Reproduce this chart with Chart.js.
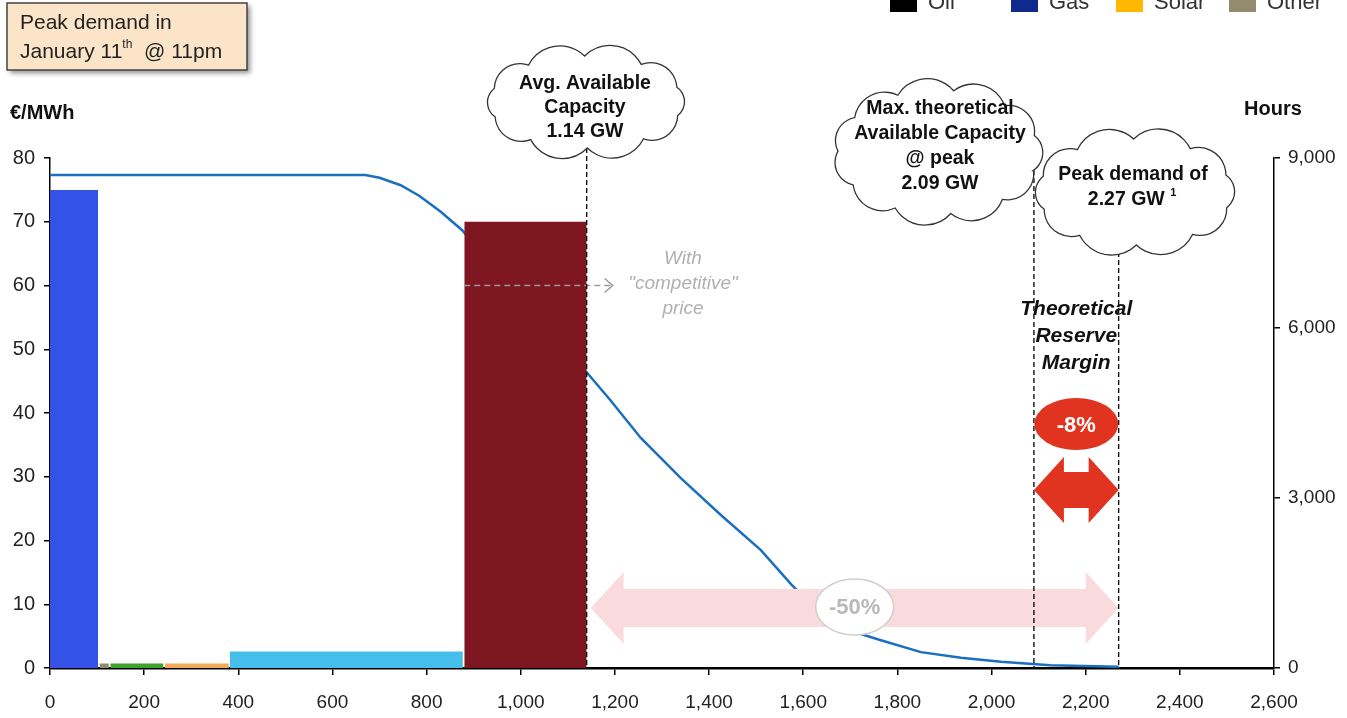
<!DOCTYPE html>
<html>
<head>
<meta charset="utf-8">
<script src="https://cdn.jsdelivr.net/npm/chart.js@4.4.1/dist/chart.umd.min.js"></script>
<style>
  html, body { margin: 0; background: #fff; }
  canvas { display: block; }
</style>
</head>
<body>
<canvas id="meritChart" width="1347" height="718"></canvas>
<script>
// merit order blocks (MW ranges and €/MWh)
const blockStartMW = [0, 105, 128, 244, 382, 880]
const blockEndMW = [102, 125, 241, 380, 877, 1140]
const blockPrice = [75, 0.7, 0.7, 0.7, 2.6, 70]
const blockColors = ['#3452E6', '#948A6E', '#3FA22C', '#F2AA58', '#46BEEB', '#7E1620']

// load duration curve (MW against hours per year)
const durationMW = [0, 670, 700, 745, 785, 830, 875, 1000, 1140, 1190, 1255, 1340, 1425, 1510, 1575, 1660, 1765, 1850, 1935, 2020, 2125, 2270]
const durationHours = [8700, 8700, 8650, 8520, 8330, 8050, 7730, 6500, 5220, 4730, 4060, 3350, 2700, 2080, 1470, 760, 490, 280, 180, 110, 50, 20]

// reference levels
const avgCapacityMW = 1140
const maxCapacityMW = 2090
const peakDemandMW = 2270
const competitivePrice = 60

const legendNames = ['Oil', 'Gas', 'Solar', 'Other']
const legendColors = ['#000000', '#102A8C', '#FFB800', '#948A6E']

const FONT = '"Liberation Sans", Arial, sans-serif'

const datasets = []
for (let i = 0; i < blockPrice.length; i++) {
  datasets.push({
    label: 'Block ' + (i + 1),
    data: [
      { x: blockStartMW[i], y: blockPrice[i] },
      { x: blockEndMW[i], y: blockPrice[i] },
    ],
    yAxisID: 'y',
    fill: 'origin',
    backgroundColor: blockColors[i],
    borderWidth: 0,
    pointRadius: 0,
    order: 0,
  })
}
datasets.push({
  label: 'Hours',
  data: durationMW.map((mw, i) => ({ x: mw, y: durationHours[i] })),
  yAxisID: 'y2',
  borderColor: '#1A6FBF',
  borderWidth: 2.5,
  pointRadius: 0,
  fill: false,
  tension: 0,
  order: 1,
})

// cloud outline made of round bumps around an ellipse
function drawCloud(ctx, cx, cy, rx, ry, n) {
  const pts = []
  for (let i = 0; i < n; i++) {
    const a = (i / n) * Math.PI * 2 + 0.3
    pts.push([cx + rx * Math.cos(a), cy + ry * Math.sin(a)])
  }
  const TAU = Math.PI * 2
  ctx.beginPath()
  for (let i = 0; i < n; i++) {
    const p0 = pts[i]
    const p1 = pts[(i + 1) % n]
    const mx = (p0[0] + p1[0]) / 2
    const my = (p0[1] + p1[1]) / 2
    const dx = p1[0] - p0[0]
    const dy = p1[1] - p0[1]
    const d = Math.hypot(dx, dy)
    let nx = dy / d
    let ny = -dx / d
    if ((mx - cx) * nx + (my - cy) * ny < 0) {
      nx = -nx
      ny = -ny
    }
    const r = d * 0.62
    const h = Math.sqrt(r * r - (d * d) / 4)
    const ox = mx - nx * h
    const oy = my - ny * h
    const a0 = Math.atan2(p0[1] - oy, p0[0] - ox)
    const a1 = Math.atan2(p1[1] - oy, p1[0] - ox)
    const an = Math.atan2(ny, nx)
    const span = (((a1 - a0) % TAU) + TAU) % TAU
    const toN = (((an - a0) % TAU) + TAU) % TAU
    ctx.arc(ox, oy, r, a0, a1, !(toN < span))
  }
  ctx.closePath()
  ctx.fillStyle = '#fff'
  ctx.fill()
  ctx.strokeStyle = '#333'
  ctx.lineWidth = 1.3
  ctx.stroke()
}

function doubleArrow(ctx, x0, x1, yc, shaftH, headH, headL, color) {
  ctx.beginPath()
  ctx.moveTo(x0, yc)
  ctx.lineTo(x0 + headL, yc - headH)
  ctx.lineTo(x0 + headL, yc - shaftH)
  ctx.lineTo(x1 - headL, yc - shaftH)
  ctx.lineTo(x1 - headL, yc - headH)
  ctx.lineTo(x1, yc)
  ctx.lineTo(x1 - headL, yc + headH)
  ctx.lineTo(x1 - headL, yc + shaftH)
  ctx.lineTo(x0 + headL, yc + shaftH)
  ctx.lineTo(x0 + headL, yc + headH)
  ctx.closePath()
  ctx.fillStyle = color
  ctx.fill()
}

function centerLines(ctx, lines, cx, y0, step) {
  ctx.textAlign = 'center'
  ctx.textBaseline = 'middle'
  lines.forEach((t, i) => ctx.fillText(t, cx, y0 + i * step))
}

const annotations = {
  id: 'annotations',
  afterDraw(chart) {
    const ctx = chart.ctx
    const xs = chart.scales.x
    const ys = chart.scales.y
    const base = ys.getPixelForValue(0)
    const xAvg = xs.getPixelForValue(avgCapacityMW)
    const xMax = xs.getPixelForValue(maxCapacityMW)
    const xPeak = xs.getPixelForValue(peakDemandMW)
    ctx.save()

    // grey dashed arrow at the competitive price
    const yComp = ys.getPixelForValue(competitivePrice)
    const xFrom = xs.getPixelForValue(blockStartMW[5])
    const xTo = xAvg + 26
    ctx.strokeStyle = '#9a9a9a'
    ctx.lineWidth = 1.5
    ctx.setLineDash([6, 4])
    ctx.beginPath()
    ctx.moveTo(xFrom, yComp)
    ctx.lineTo(xTo, yComp)
    ctx.stroke()
    ctx.setLineDash([])
    ctx.beginPath()
    ctx.moveTo(xTo - 8, yComp - 7)
    ctx.lineTo(xTo, yComp)
    ctx.lineTo(xTo - 8, yComp + 7)
    ctx.stroke()
    ctx.fillStyle = '#b0b0b0'
    ctx.font = 'italic 19px ' + FONT
    centerLines(ctx, ['With', '"competitive"', 'price'], 683, 259, 25)

    // pink -50% arrow
    doubleArrow(ctx, xAvg + 4, xPeak, 608, 19, 36, 33, '#FADBDD')
    const midPink = (xAvg + 4 + xPeak) / 2
    ctx.beginPath()
    ctx.ellipse(midPink, 607, 39, 28, 0, 0, Math.PI * 2)
    ctx.fillStyle = '#fff'
    ctx.fill()
    ctx.strokeStyle = '#cfcfcf'
    ctx.lineWidth = 1.5
    ctx.stroke()
    ctx.fillStyle = '#b9b9b9'
    ctx.font = 'bold 22px ' + FONT
    centerLines(ctx, ['-50%'], midPink, 608, 0)

    // dashed capacity / demand markers
    ctx.strokeStyle = '#111'
    ctx.lineWidth = 1.4
    ctx.setLineDash([5, 3])
    ;[[xAvg, 140], [xMax, 170], [xPeak, 220]].forEach(([x, top]) => {
      ctx.beginPath()
      ctx.moveTo(x, top)
      ctx.lineTo(x, base)
      ctx.stroke()
    })
    ctx.setLineDash([])

    // reserve margin
    const midRed = (xMax + xPeak) / 2
    ctx.fillStyle = '#111'
    ctx.font = 'italic bold 21px ' + FONT
    centerLines(ctx, ['Theoretical', 'Reserve', 'Margin'], midRed, 309, 27)
    ctx.beginPath()
    ctx.ellipse(midRed, 424, 42, 26, 0, 0, Math.PI * 2)
    ctx.fillStyle = '#E03421'
    ctx.fill()
    ctx.fillStyle = '#fff'
    ctx.font = 'bold 22px ' + FONT
    centerLines(ctx, ['-8%'], midRed, 426, 0)
    doubleArrow(ctx, xMax, xPeak, 490, 18, 33, 30, '#E03421')

    // clouds
    ctx.font = 'bold 19.5px ' + FONT
    drawCloud(ctx, 1135, 192, 96, 53, 10)
    ctx.fillStyle = '#111'
    centerLines(ctx, ['Peak demand of'], 1133, 175, 0)
    ctx.textAlign = 'left'
    const gw = '2.27 GW '
    const gwW = ctx.measureText(gw).width
    const gx = 1133 - (gwW + 8) / 2
    ctx.fillText(gw, gx, 200)
    ctx.font = 'bold 11px ' + FONT
    ctx.fillText('1', gx + gwW, 193)

    ctx.font = 'bold 19.5px ' + FONT
    drawCloud(ctx, 938, 152, 100, 62, 11)
    ctx.fillStyle = '#111'
    centerLines(ctx, ['Max. theoretical', 'Available Capacity', '@ peak', '2.09 GW'], 940, 109, 25)

    drawCloud(ctx, 586, 102, 96, 46, 10)
    ctx.fillStyle = '#111'
    centerLines(ctx, ['Avg. Available', 'Capacity', '1.14 GW'], 585, 84, 24)

    // axis titles
    ctx.font = 'bold 20px ' + FONT
    ctx.textAlign = 'left'
    ctx.fillStyle = '#111'
    ctx.fillText('€/MWh', 10, 113)
    ctx.fillText('Hours', 1244, 109)

    // peak demand box
    ctx.save()
    ctx.shadowColor = 'rgba(0,0,0,0.45)'
    ctx.shadowBlur = 5
    ctx.shadowOffsetX = 3
    ctx.shadowOffsetY = 3
    ctx.fillStyle = '#FCE4C8'
    ctx.fillRect(7, 3, 240, 67)
    ctx.restore()
    ctx.strokeStyle = '#444'
    ctx.lineWidth = 1.5
    ctx.strokeRect(7, 3, 240, 67)
    ctx.fillStyle = '#222'
    ctx.font = '21px ' + FONT
    ctx.textAlign = 'left'
    ctx.fillText('Peak demand in', 20, 23)
    const jan = 'January 11'
    ctx.fillText(jan, 20, 52)
    let px = 20 + ctx.measureText(jan).width
    ctx.font = '12px ' + FONT
    ctx.fillText('th', px, 45)
    px += ctx.measureText('th').width
    ctx.font = '21px ' + FONT
    ctx.fillText('  @ 11pm', px, 52)

    // legend strip
    const legendX = [890, 1011, 1116, 1229]
    ctx.font = '22px ' + FONT
    ctx.textBaseline = 'alphabetic'
    legendNames.forEach((name, i) => {
      ctx.fillStyle = legendColors[i]
      ctx.fillRect(legendX[i], -2, 27, 14)
      ctx.fillStyle = '#333'
      ctx.fillText(name, legendX[i] + 38, 9)
    })

    ctx.restore()
  },
}

new Chart(document.getElementById('meritChart'), {
  type: 'line',
  data: { datasets },
  options: {
    responsive: false,
    animation: false,
    events: [],
    layout: { padding: { top: 158, left: 0, right: 0, bottom: 0 } },
    plugins: {
      legend: { display: false },
      tooltip: { enabled: false },
    },
    scales: {
      x: {
        type: 'linear',
        min: 0,
        max: 2600,
        z: 1,
        afterFit(s) { s.height = 50 },
        border: { color: '#000', width: 2.5 },
        grid: { drawOnChartArea: false, drawTicks: true, tickLength: 7, color: '#000', lineWidth: 1.5 },
        ticks: {
          stepSize: 200,
          maxRotation: 0,
          autoSkip: false,
          padding: 16,
          color: '#222',
          font: { family: FONT, size: 19 },
          callback: (v) => v.toLocaleString('en-US'),
        },
      },
      y: {
        position: 'left',
        min: 0,
        max: 80,
        afterFit(s) { s.width = 50 },
        border: { color: '#000', width: 1.5 },
        grid: { drawOnChartArea: false, drawTicks: true, tickLength: 6, color: '#000', lineWidth: 1.5 },
        ticks: { stepSize: 10, padding: 9, color: '#222', font: { family: FONT, size: 20 } },
      },
      y2: {
        position: 'right',
        min: 0,
        max: 9000,
        afterFit(s) { s.width = 73 },
        border: { color: '#000', width: 1.5 },
        grid: { drawOnChartArea: false, drawTicks: true, tickLength: 6, color: '#000', lineWidth: 1.5 },
        ticks: {
          stepSize: 3000,
          padding: 8,
          color: '#222',
          font: { family: FONT, size: 19 },
          callback: (v) => v.toLocaleString('en-US'),
        },
      },
    },
  },
  plugins: [annotations],
})
</script>
</body>
</html>
